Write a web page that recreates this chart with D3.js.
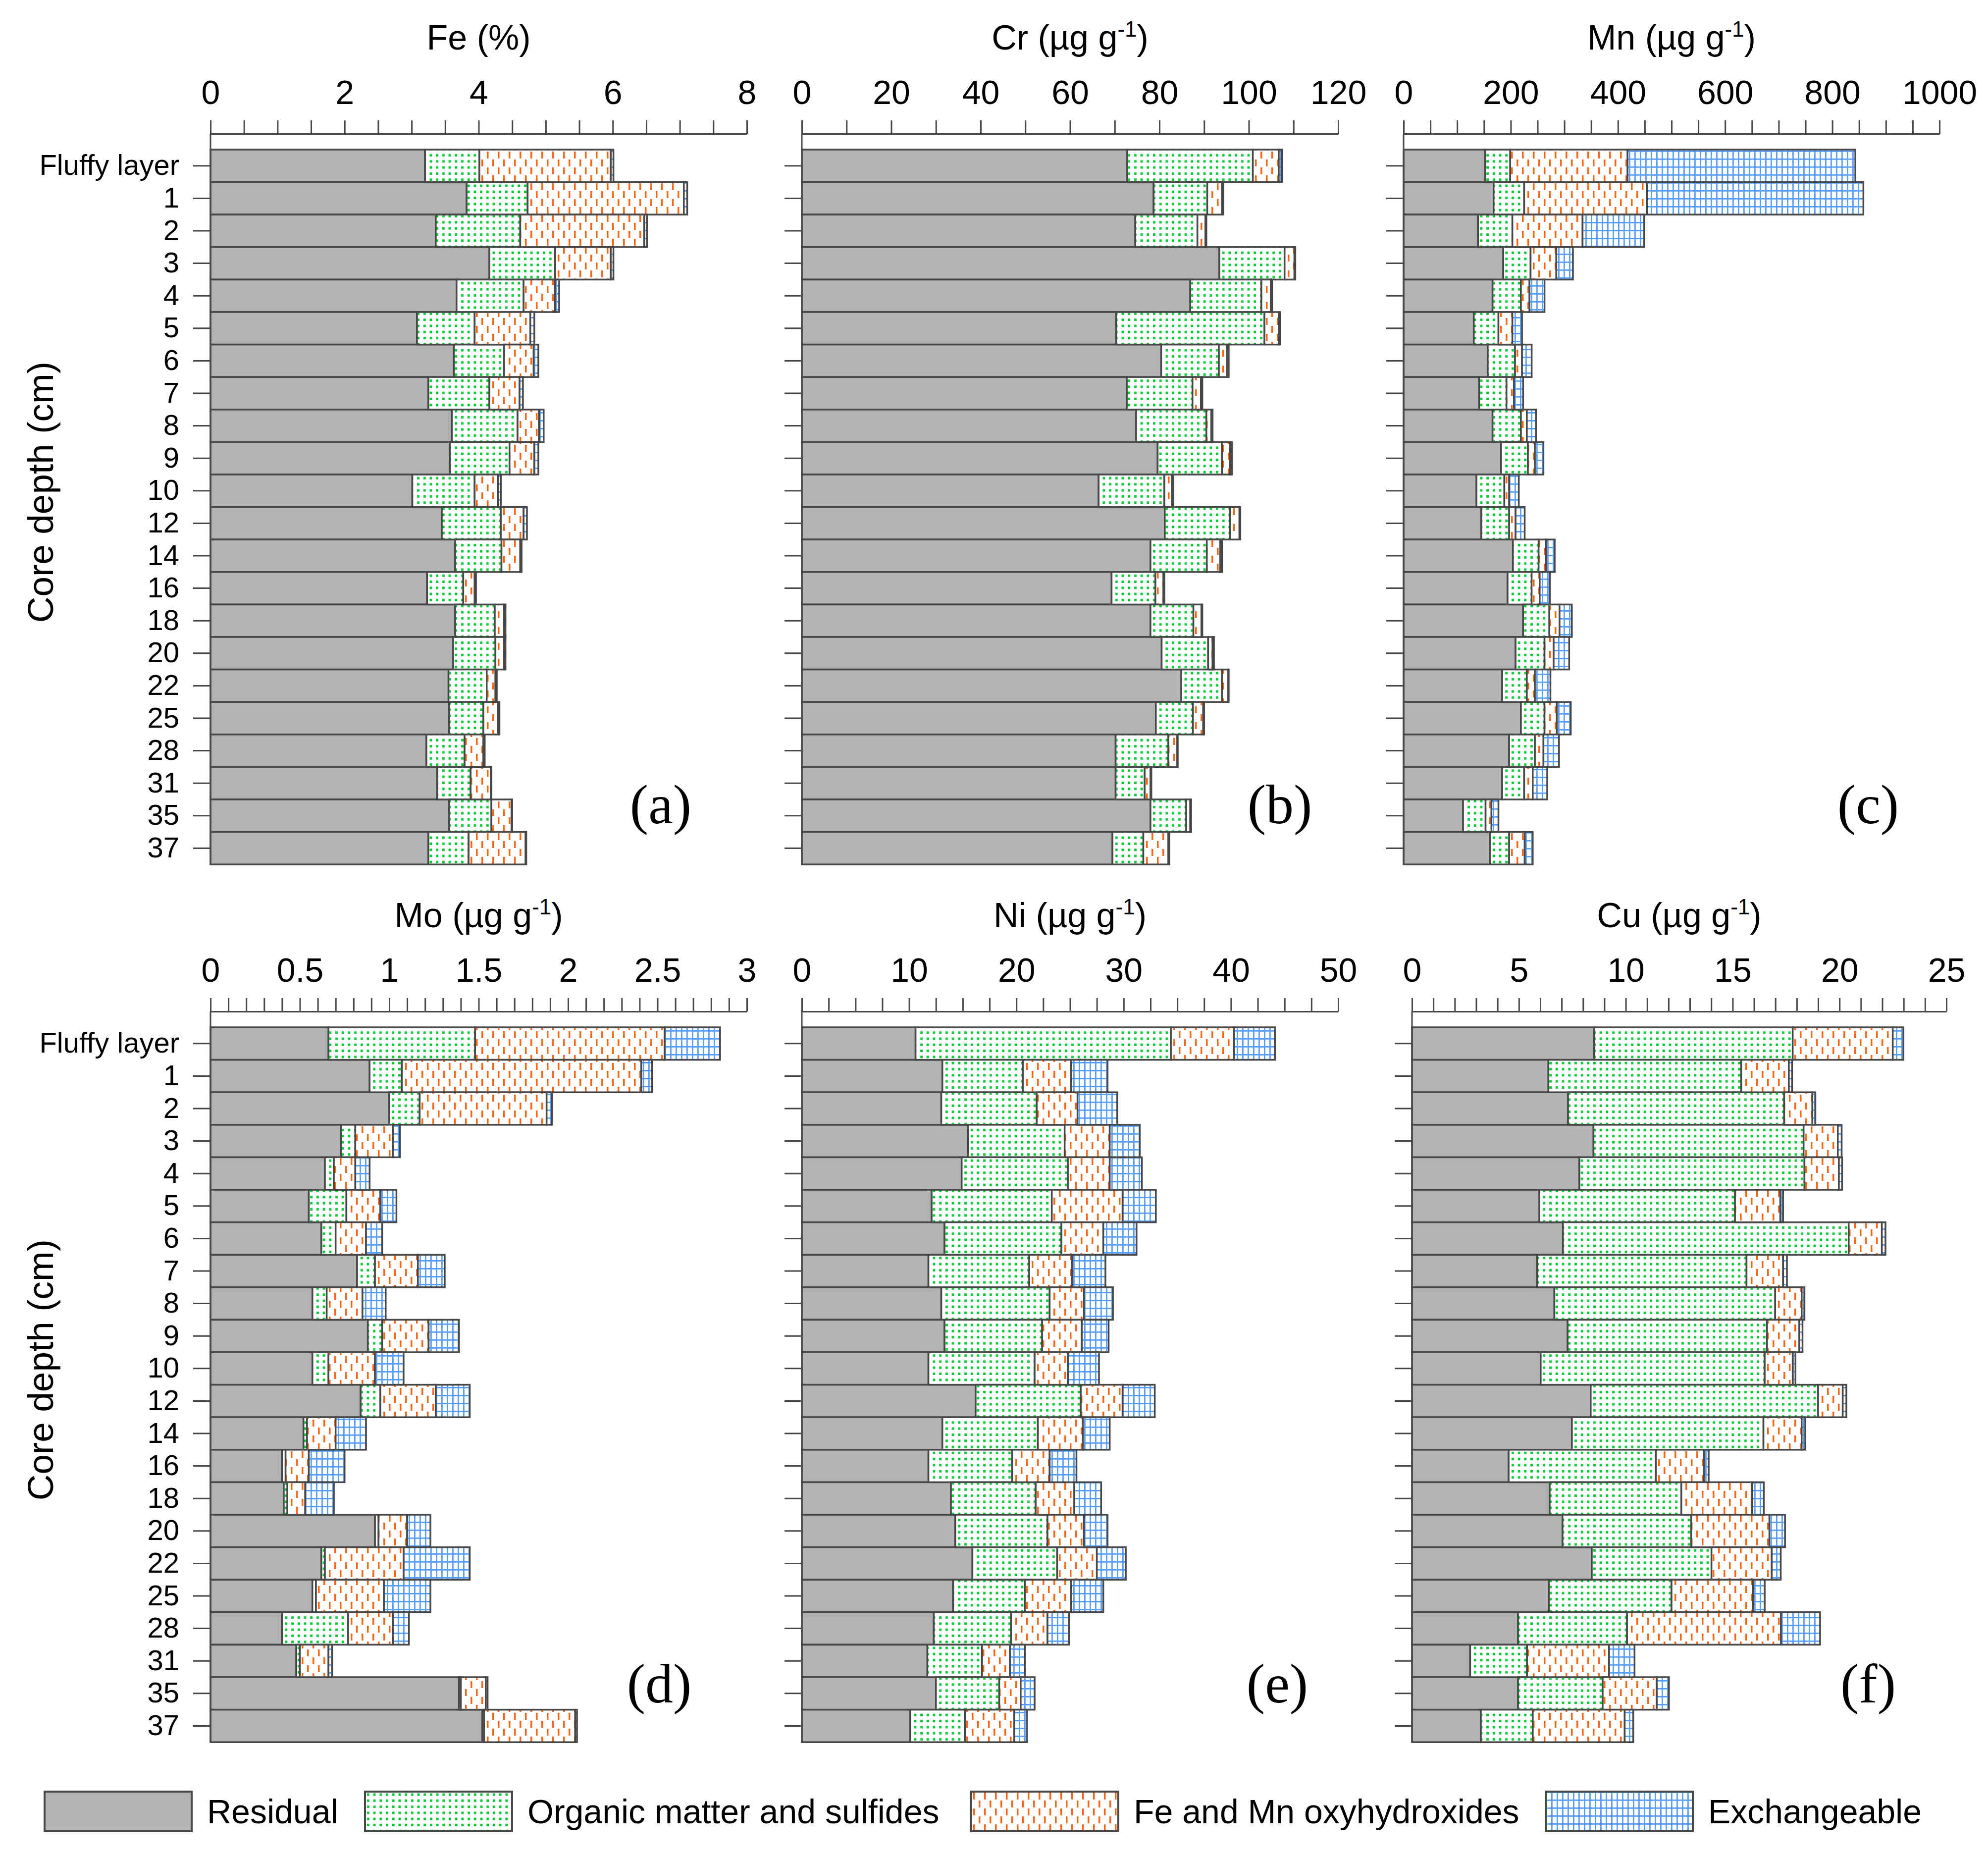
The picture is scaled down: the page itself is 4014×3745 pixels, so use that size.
<!DOCTYPE html>
<html>
<head>
<meta charset="utf-8">
<script src="https://cdn.jsdelivr.net/npm/d3@7"></script>
<style>
  body { margin: 0; background: #fff; }
  svg text { font-family: "Liberation Sans", Arial, sans-serif; fill: #000; }
</style>
</head>
<body>
<svg id="chart" width="4014" height="3745"></svg>
<script>
const depths = ["Fluffy layer", "1", "2", "3", "4", "5", "6", "7", "8", "9", "10",
  "12", "14", "16", "18", "20", "22", "25", "28", "31", "35", "37"];
const fractions = ["Residual", "Organic matter and sulfides", "Fe and Mn oxyhydroxides", "Exchangeable"];

// each row: residual, organic matter and sulfides, Fe/Mn oxyhydroxides, exchangeable
const fe = [
  [3.20, 0.81, 1.96, 0.04], [3.82, 0.91, 2.33, 0.05], [3.36, 1.26, 1.85, 0.04], [4.16, 0.98, 0.83, 0.04],
  [3.67, 1.00, 0.47, 0.06], [3.08, 0.86, 0.83, 0.06], [3.63, 0.75, 0.44, 0.07], [3.25, 0.91, 0.45, 0.05],
  [3.60, 0.98, 0.32, 0.07], [3.57, 0.89, 0.37, 0.06], [3.01, 0.93, 0.35, 0.04], [3.45, 0.88, 0.34, 0.05],
  [3.65, 0.69, 0.28, 0.02], [3.23, 0.54, 0.17, 0.02], [3.65, 0.59, 0.14, 0.02], [3.62, 0.63, 0.13, 0.02],
  [3.55, 0.57, 0.13, 0.02], [3.56, 0.51, 0.22, 0.02], [3.22, 0.57, 0.28, 0.02], [3.38, 0.50, 0.30, 0.01],
  [3.56, 0.63, 0.30, 0.01], [3.25, 0.60, 0.85, 0.01]
];
const cr = [
  [72.8, 28.1, 5.8, 0.7], [78.7, 12.0, 3.3, 0.3], [74.6, 13.9, 1.8, 0.2], [93.4, 14.6, 2.2, 0.2],
  [86.9, 15.9, 2.1, 0.3], [70.3, 33.2, 3.2, 0.3], [80.4, 12.9, 1.8, 0.4], [72.7, 14.7, 1.9, 0.3],
  [74.8, 15.7, 1.1, 0.3], [79.6, 14.4, 1.8, 0.4], [66.4, 14.7, 1.7, 0.3], [81.2, 14.6, 2.1, 0.2],
  [78.0, 12.6, 3.0, 0.4], [69.3, 9.8, 1.8, 0.2], [78.0, 9.6, 1.8, 0.2], [80.5, 10.4, 1.0, 0.3],
  [84.9, 9.1, 1.4, 0.1], [79.2, 8.3, 2.3, 0.2], [70.2, 11.8, 2.0, 0.1], [70.2, 6.5, 1.3, 0.2],
  [78.0, 8.0, 0.9, 0.2], [69.5, 6.9, 5.6, 0.2]
];
const mn = [
  [152, 47, 219, 425], [168, 57, 229, 404], [139, 64, 131, 115], [186, 51, 48, 31],
  [166, 53, 16, 28], [131, 46, 26, 18], [157, 51, 13, 18], [141, 51, 14, 17],
  [166, 53, 11, 17], [182, 50, 13, 16], [136, 52, 9, 18], [145, 52, 12, 17],
  [204, 48, 14, 16], [194, 45, 15, 19], [223, 49, 19, 23], [209, 54, 17, 29],
  [184, 46, 15, 29], [219, 44, 23, 26], [197, 48, 16, 29], [184, 41, 16, 27],
  [111, 42, 11, 13], [161, 36, 29, 15]
];
const mo = [
  [0.66, 0.82, 1.06, 0.31], [0.89, 0.18, 1.34, 0.06], [1.00, 0.17, 0.71, 0.03], [0.73, 0.08, 0.21, 0.04],
  [0.64, 0.05, 0.12, 0.08], [0.55, 0.21, 0.19, 0.09], [0.62, 0.08, 0.17, 0.09], [0.82, 0.10, 0.24, 0.15],
  [0.57, 0.08, 0.20, 0.13], [0.88, 0.08, 0.26, 0.17], [0.57, 0.09, 0.26, 0.16], [0.84, 0.11, 0.31, 0.19],
  [0.52, 0.02, 0.16, 0.17], [0.40, 0.02, 0.13, 0.20], [0.41, 0.02, 0.10, 0.16], [0.92, 0.02, 0.16, 0.13],
  [0.62, 0.02, 0.44, 0.37], [0.57, 0.02, 0.38, 0.26], [0.40, 0.37, 0.25, 0.09], [0.48, 0.02, 0.16, 0.02],
  [1.39, 0.01, 0.14, 0.01], [1.52, 0.01, 0.51, 0.01]
];
const ni = [
  [10.6, 23.8, 5.9, 3.8], [13.1, 7.5, 4.5, 3.4], [13.0, 8.9, 3.8, 3.7], [15.5, 9.0, 4.2, 2.8],
  [14.9, 9.9, 3.9, 3.0], [12.1, 11.2, 6.6, 3.1], [13.3, 10.9, 3.9, 3.1], [11.8, 9.4, 4.0, 3.1],
  [13.0, 10.1, 3.2, 2.7], [13.3, 9.1, 3.7, 2.5], [11.8, 9.9, 3.1, 2.9], [16.2, 9.8, 3.9, 3.0],
  [13.1, 8.9, 4.2, 2.5], [11.8, 7.8, 3.5, 2.5], [13.9, 7.9, 3.6, 2.5], [14.3, 8.6, 3.4, 2.2],
  [15.9, 7.9, 3.7, 2.7], [14.1, 6.7, 4.3, 3.0], [12.3, 7.2, 3.4, 2.0], [11.7, 5.1, 2.6, 1.4],
  [12.5, 5.9, 2.0, 1.3], [10.1, 5.1, 4.6, 1.2]
];
const cu = [
  [8.52, 9.29, 4.68, 0.50], [6.38, 9.02, 2.23, 0.15], [7.30, 10.11, 1.32, 0.14], [8.49, 9.83, 1.60, 0.18],
  [7.83, 10.53, 1.61, 0.15], [5.96, 9.15, 2.12, 0.13], [7.06, 13.37, 1.55, 0.17], [5.85, 9.80, 1.71, 0.18],
  [6.66, 10.33, 1.24, 0.13], [7.28, 9.33, 1.51, 0.15], [6.02, 10.48, 1.31, 0.13], [8.36, 10.64, 1.15, 0.17],
  [7.48, 8.96, 1.79, 0.17], [4.52, 6.89, 2.25, 0.22], [6.44, 6.16, 3.31, 0.55], [7.04, 6.02, 3.66, 0.73],
  [8.41, 5.60, 2.82, 0.42], [6.40, 5.74, 3.81, 0.55], [4.96, 5.10, 7.20, 1.83], [2.72, 2.66, 3.84, 1.19],
  [4.96, 3.96, 2.53, 0.57], [3.22, 2.43, 4.30, 0.40]
];

const W = 4014, H = 3745;
const rowH = 65.6;
const outline = "#474747";

const panels = [
  { data: fe, name: "Fe", unit: "(%)", max: 8, major: 2, minor: 0.5, x0: 425, x1: 1508, axisY: 270, tag: "(a)", tagX: 1334, tagY: 1662, labels: true },
  { data: cr, name: "Cr", unit: "ug", max: 120, major: 20, minor: 10, x0: 1619, x1: 2702, axisY: 270, tag: "(b)", tagX: 2584, tagY: 1662 },
  { data: mn, name: "Mn", unit: "ug", max: 1000, major: 200, minor: 50, x0: 2834, x1: 3916, axisY: 270, tag: "(c)", tagX: 3772, tagY: 1662 },
  { data: mo, name: "Mo", unit: "ug", max: 3, major: 0.5, minor: 0.1, x0: 425, x1: 1508, axisY: 2042, tag: "(d)", tagX: 1331, tagY: 3437, labels: true },
  { data: ni, name: "Ni", unit: "ug", max: 50, major: 10, minor: 2.5, x0: 1619, x1: 2702, axisY: 2042, tag: "(e)", tagX: 2579, tagY: 3437 },
  { data: cu, name: "Cu", unit: "ug", max: 25, major: 5, minor: 1, x0: 2851, x1: 3930, axisY: 2042, tag: "(f)", tagX: 3772, tagY: 3437 }
];

const svg = d3.select("#chart").attr("viewBox", `0 0 ${W} ${H}`);
svg.append("rect").attr("width", W).attr("height", H).attr("fill", "#fff");

// fill patterns for the four fractions
const defs = svg.append("defs");
const org = defs.append("pattern").attr("id", "pat-org").attr("patternUnits", "userSpaceOnUse")
  .attr("width", 12.7).attr("height", 12.3);
org.append("rect").attr("width", 12.7).attr("height", 12.3).attr("fill", "#fff");
org.append("rect").attr("x", 4).attr("y", 3.5).attr("width", 4.8).attr("height", 5).attr("fill", "#00cc33");

const oxy = defs.append("pattern").attr("id", "pat-oxy").attr("patternUnits", "userSpaceOnUse")
  .attr("width", 22).attr("height", 32);
oxy.append("rect").attr("width", 22).attr("height", 32).attr("fill", "#fff");
oxy.append("rect").attr("x", 4).attr("y", 2).attr("width", 3.5).attr("height", 14).attr("fill", "#ff6510");
oxy.append("rect").attr("x", 15).attr("y", 18).attr("width", 3.5).attr("height", 14).attr("fill", "#ff6510");

const exch = defs.append("pattern").attr("id", "pat-exch").attr("patternUnits", "userSpaceOnUse")
  .attr("width", 11).attr("height", 16);
exch.append("rect").attr("width", 11).attr("height", 16).attr("fill", "#fff");
exch.append("rect").attr("x", 0).attr("y", 0).attr("width", 2.8).attr("height", 16).attr("fill", "#559eff");
exch.append("rect").attr("x", 0).attr("y", 0).attr("width", 11).attr("height", 2.8).attr("fill", "#559eff");

const fills = ["#b3b3b3", "url(#pat-org)", "url(#pat-oxy)", "url(#pat-exch)"];

function isMajor(v, step) {
  const r = v / step;
  return Math.abs(r - Math.round(r)) < 1e-6;
}

panels.forEach(p => {
  const g = svg.append("g");
  const x = d3.scaleLinear().domain([0, p.max]).range([p.x0, p.x1]);
  const top = p.axisY + 32;
  const y = d3.scaleBand().domain(depths).range([top, top + rowH * depths.length]).paddingInner(0);

  const series = d3.stack().keys(d3.range(4)).value((d, k) => d[k])(p.data);

  g.selectAll("g.layer").data(series).join("g")
    .attr("class", "layer")
    .attr("fill", (d, i) => fills[i])
    .selectAll("rect").data(d => d).join("rect")
      .attr("x", d => x(d[0]))
      .attr("width", d => Math.max(0, x(d[1]) - x(d[0])))
      .attr("y", (d, i) => y(depths[i]))
      .attr("height", y.bandwidth())
      .attr("stroke", outline)
      .attr("stroke-width", 3.5);

  // top value axis
  const ticks = d3.range(0, Math.round(p.max / p.minor) + 1).map(i => +(i * p.minor).toFixed(4));
  const axis = d3.axisTop(x)
    .tickValues(ticks)
    .tickSize(27)
    .tickSizeOuter(0)
    .tickPadding(33)
    .tickFormat(v => isMajor(v, p.major) ? d3.format("~g")(v) : "");
  const ax = g.append("g").attr("transform", `translate(0,${p.axisY})`).call(axis);
  ax.select(".domain").attr("stroke", outline).attr("stroke-width", 3);
  ax.selectAll(".tick line").attr("stroke", outline).attr("stroke-width", 3);
  ax.selectAll(".tick text").attr("font-size", 68).attr("fill", "#000")
    .style("font-family", "'Liberation Sans', Arial, sans-serif");

  // depth axis
  const left = d3.axisLeft(y).tickSize(35).tickSizeOuter(0).tickPadding(28)
    .tickFormat(d => p.labels ? d : "");
  const ay = g.append("g").attr("transform", `translate(${p.x0},0)`).call(left);
  ay.select(".domain").remove();
  ay.selectAll(".tick line").attr("stroke", outline).attr("stroke-width", 3);
  ay.selectAll(".tick text").attr("font-size", 58).attr("fill", "#000")
    .style("font-family", "'Liberation Sans', Arial, sans-serif");
  g.append("line")
    .attr("x1", p.x0).attr("x2", p.x0)
    .attr("y1", p.axisY).attr("y2", top + rowH * depths.length)
    .attr("stroke", outline).attr("stroke-width", 3);

  // panel title
  const title = g.append("text")
    .attr("x", (p.x0 + p.x1) / 2).attr("y", p.axisY - 170)
    .attr("text-anchor", "middle").attr("font-size", 70);
  if (p.unit === "ug") {
    title.append("tspan").text(p.name + " (\u00b5g g");
    title.append("tspan").attr("font-size", 44).attr("dy", -26).text("-1");
    title.append("tspan").attr("dy", 26).text(")");
  } else {
    title.text(p.name + " " + p.unit);
  }

  // panel tag
  g.append("text")
    .attr("x", p.tagX).attr("y", p.tagY)
    .attr("text-anchor", "middle")
    .attr("font-size", 112)
    .style("font-family", "'Liberation Serif', 'Times New Roman', serif")
    .text(p.tag);

  if (p.labels) {
    svg.append("text")
      .attr("transform", `translate(107,${top + rowH * depths.length / 2 - 30}) rotate(-90)`)
      .attr("text-anchor", "middle")
      .attr("font-size", 73)
      .text("Core depth (cm)");
  }
});

// legend
const legendX = [90, 737, 1961, 3121];
const legend = svg.append("g").selectAll("g").data(fractions).join("g")
  .attr("transform", (d, i) => `translate(${legendX[i]},3617)`);
legend.append("rect")
  .attr("width", 297).attr("height", 80)
  .attr("fill", (d, i) => fills[i])
  .attr("stroke", outline).attr("stroke-width", 4);
legend.append("text")
  .attr("x", 328).attr("y", 64)
  .attr("font-size", 68)
  .text(d => d);
</script>
</body>
</html>
